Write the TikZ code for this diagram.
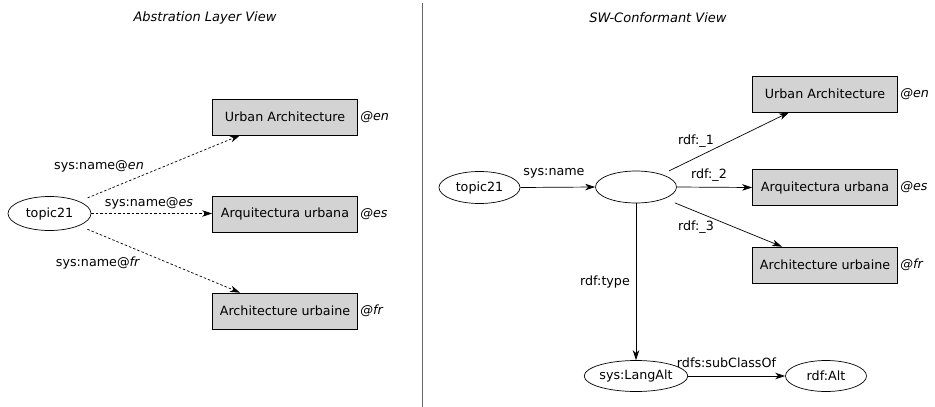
\documentclass[tikz,border=0pt]{standalone}
\usepackage{fontspec}
\setmainfont{DejaVu Sans}
\usetikzlibrary{arrows.meta,shapes.geometric}
\definecolor{litfill}{RGB}{211,211,211}
\begin{document}
\begin{tikzpicture}[x=1pt,y=-1pt,
  font=\fontsize{12.7}{14}\selectfont,
  every path/.style={line width=0.7pt},
  res/.style={ellipse,draw,inner sep=0pt,minimum width=81pt,minimum height=32pt},
  lit/.style={rectangle,draw,fill=litfill,inner sep=0pt,minimum width=145pt,minimum height=36pt},
  lang/.style={anchor=west,font=\fontsize{12.7}{14}\selectfont\itshape,inner sep=0pt},
  ttl/.style={font=\fontsize{13}{15}\selectfont\itshape},
  arr/.style={-{Stealth[length=10pt,width=6.5pt,inset=3pt]}},
  dots/.style={arr,dash pattern=on 2.5pt off 2pt},
  lbl/.style={inner sep=0pt}]
\useasboundingbox (0,0) rectangle (935,407);

% headings and separator
\node[ttl] (t1) at (205,18) {Abstration Layer View};
\node[ttl] (t2) at (658,18) {SW-Conformant View};
\draw[black!60] (422,3) -- (422,407);

% abstraction layer view
\node[res,minimum width=83pt,minimum height=34pt] (a) at (49.5,213.5) {topic21};
\node[lit] (aen) at (285,117) {Urban Architecture};
\node[lit] (aes) at (285,214) {Arquitectura urbana};
\node[lit] (afr) at (285,311) {Architecture urbaine};
\node[lang] (aenl) at (360,117) {@en};
\node[lang] (aesl) at (360,214) {@es};
\node[lang] (afrl) at (360,311) {@fr};
\draw[dots,shorten <=9pt] (a) -- ([xshift=-45pt]aen.south);
\draw[dots] (a.east) -- (aes.west |- a.east);
\draw[dots,shorten <=9pt] (a) -- ([xshift=-45pt]afr.north);
\node[lbl] (l1) at (99,166) {sys:name@\textit{en}};
\node[lbl] (l2) at (149,203) {sys:name@\textit{es}};
\node[lbl] (l3) at (98,263) {sys:name@\textit{fr}};

% SW-conformant view
\node[res] (b) at (479.5,187.5) {topic21};
\node[res] (c) at (636,187) {};
\node[lit] (ben) at (825,94) {Urban Architecture};
\node[lit] (bes) at (825,187.5) {Arquitectura urbana};
\node[lit] (bfr) at (825,265) {Architecture urbaine};
\node[lang] (benl) at (900,94) {@en};
\node[lang] (besl) at (900,187.5) {@es};
\node[lang] (bfrl) at (900,265) {@fr};
\node[res,minimum height=31pt] (la) at (636,376) {sys:LangAlt};
\node[res,minimum height=31pt] (alt) at (826,376) {rdf:Alt};

\draw[arr] (b.east) -- (c.west);
\draw[arr,shorten <=8pt] (c) -- ([xshift=-36pt]ben.south);
\draw[arr] (c.east) -- (bes.west);
\draw[arr,shorten <=11pt] (c) -- ([xshift=-43pt]bfr.north);
\draw[arr] (c.south) -- (la.north);
\draw[arr] (la.east) -- (alt.west);

\node[lbl] (s1) at (554,173) {sys:name};
\node[lbl] (r1) at (696,141) {rdf:\_1};
\node[lbl] (r2) at (709,175) {rdf:\_2};
\node[lbl] (r3) at (696,227) {rdf:\_3};
\node[lbl] (rt) at (605,282) {rdf:type};
\node[lbl] (sc) at (726.5,363) {rdfs:subClassOf};
\end{tikzpicture}
\end{document}
